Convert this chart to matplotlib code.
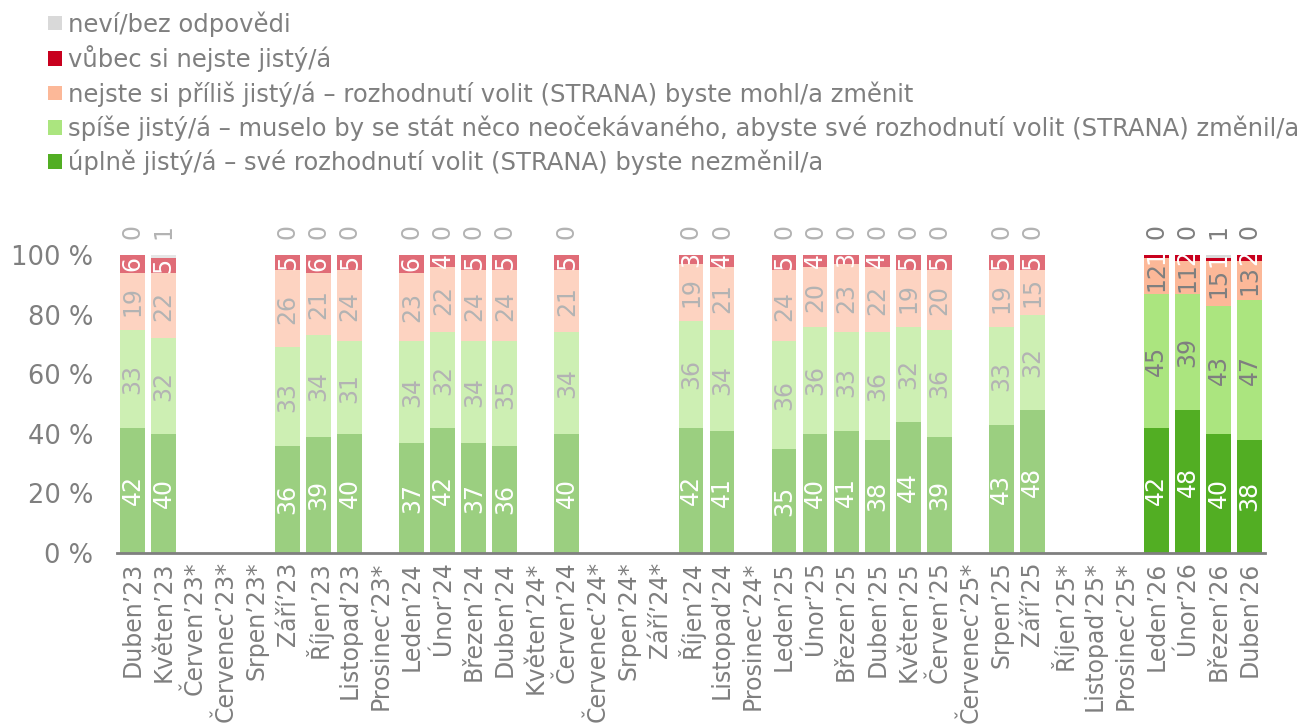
import numpy as np
import matplotlib
matplotlib.use("Agg")
import matplotlib.pyplot as plt
from matplotlib.patches import Patch

plt.rcParams['font.family'] = ['DejaVu Sans']

months = ['Duben’23', 'Květen’23', 'Červen’23*', 'Červenec’23*', 'Srpen’23*', 'Září’23',
          'Říjen’23', 'Listopad’23', 'Prosinec’23*', 'Leden’24', 'Únor’24', 'Březen’24',
          'Duben’24', 'Květen’24*', 'Červen’24', 'Červenec’24*', 'Srpen’24*', 'Září’24*',
          'Říjen’24', 'Listopad’24', 'Prosinec’24*', 'Leden’25', 'Únor’25', 'Březen’25',
          'Duben’25', 'Květen’25', 'Červen’25', 'Červenec’25*', 'Srpen’25', 'Září’25',
          'Říjen’25*', 'Listopad’25*', 'Prosinec’25*', 'Leden’26', 'Únor’26', 'Březen’26',
          'Duben’26']

# None = no survey that month
uplne  = [42, 40, None, None, None, 36, 39, 40, None, 37, 42, 37, 36, None, 40, None, None, None,
          42, 41, None, 35, 40, 41, 38, 44, 39, None, 43, 48, None, None, None, 42, 48, 40, 38]
spise  = [33, 32, None, None, None, 33, 34, 31, None, 34, 32, 34, 35, None, 34, None, None, None,
          36, 34, None, 36, 36, 33, 36, 32, 36, None, 33, 32, None, None, None, 45, 39, 43, 47]
nejste = [19, 22, None, None, None, 26, 21, 24, None, 23, 22, 24, 24, None, 21, None, None, None,
          19, 21, None, 24, 20, 23, 22, 19, 20, None, 19, 15, None, None, None, 12, 11, 15, 13]
vubec  = [6, 5, None, None, None, 5, 6, 5, None, 6, 4, 5, 5, None, 5, None, None, None,
          3, 4, None, 5, 4, 3, 4, 5, 5, None, 5, 5, None, None, None, 1, 2, 1, 2]
nevi   = [0, 1, None, None, None, 0, 0, 0, None, 0, 0, 0, 0, None, 0, None, None, None,
          0, 0, None, 0, 0, 0, 0, 0, 0, None, 0, 0, None, None, None, 0, 0, 1, 0]

series_names = ['úplně jistý/á – své rozhodnutí volit (STRANA) byste nezměnil/a',
                'spíše jistý/á – muselo by se stát něco neočekávaného, abyste své rozhodnutí volit (STRANA) změnil/a',
                'nejste si příliš jistý/á – rozhodnutí volit (STRANA) byste mohl/a změnit',
                'vůbec si nejste jistý/á',
                'neví/bez odpovědi']

vivid = ['#52AE23', '#ABE57F', '#FCB898', '#C8001E', '#D9D9D9']
muted = ['#9BCF80', '#CDEFB3', '#FDD3C1', '#E06C77', '#E6E6E6']
n_highlight = 4  # last four bars (2026) drawn in full colour

series = [uplne, spise, nejste, vubec, nevi]

fig = plt.figure(figsize=(13.03, 7.28), dpi=100)
ax = fig.add_axes([0.0898, 0.2404, 0.881, 0.4093])

x = np.arange(len(months))
n = len(months)
for i in range(n):
    if uplne[i] is None:
        continue
    hi = i >= n - n_highlight
    cols = vivid if hi else muted
    txt_grey = '#7F7F7F' if hi else '#B3B3B3'
    bottom = 0
    for k, s in enumerate(series):
        v = s[i]
        ax.bar(x[i], v, 0.8, bottom=bottom, color=cols[k], linewidth=0)
        if k < 4 and v > 0:
            c = 'white' if k in (0, 3) else txt_grey
            ax.text(x[i], bottom + v / 2, str(v), rotation=90, ha='center', va='center',
                    fontsize=17, color=c)
        bottom += v
    ax.text(x[i], 108, str(nevi[i]), rotation=90, ha='center', va='center',
            fontsize=17, color=txt_grey, clip_on=False)

ax.set_xlim(-0.5, n - 0.5)
ax.set_ylim(0, 100)
ax.set_yticks(range(0, 101, 20))
ax.set_yticklabels([f'{t} %' for t in range(0, 101, 20)])
ax.set_xticks(x)
ax.set_xticklabels(months, rotation=90)
ax.tick_params(axis='both', length=0, labelsize=17, colors='#7F7F7F')
ax.tick_params(axis='y', pad=17, labelsize=18.5)
ax.tick_params(axis='x', pad=6)
for sp in ['top', 'right', 'left']:
    ax.spines[sp].set_visible(False)
ax.spines['bottom'].set_color('#7F7F7F')
ax.spines['bottom'].set_linewidth(2)

handles = [Patch(facecolor=vivid[k]) for k in range(4, -1, -1)]
labels = [series_names[k] for k in range(4, -1, -1)]
fig.legend(handles, labels, loc='upper left', bbox_to_anchor=(0.024, 1.008), frameon=False,
           fontsize=17.5, labelcolor='#7F7F7F', handlelength=0.55, handleheight=0.55,
           handletextpad=0.25, labelspacing=0.36, borderaxespad=0.3)

fig.savefig('out.png', dpi=100)
